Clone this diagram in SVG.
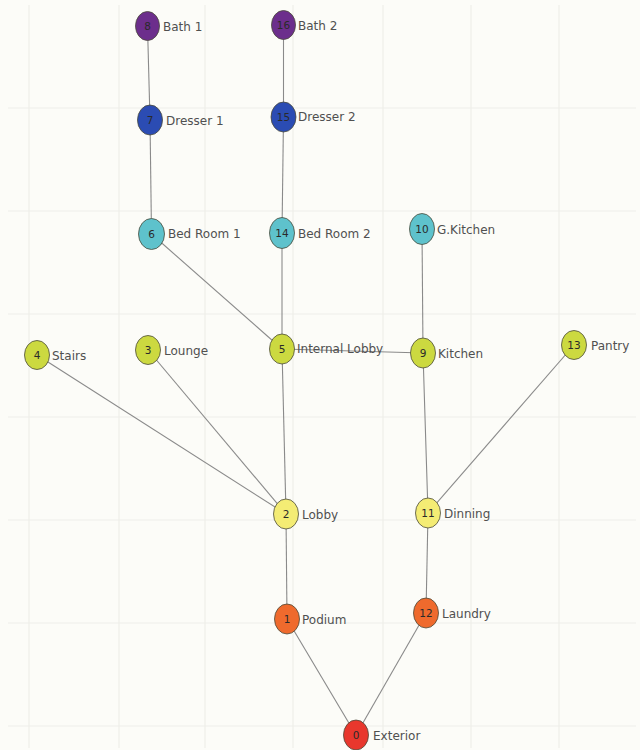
<svg xmlns="http://www.w3.org/2000/svg" width="640" height="750" viewBox="0 0 640 750">
<style>
.grid line{stroke:#eeeee9;stroke-width:1.2}
.edges line{stroke:#8a8a8a;stroke-width:1.1}
.n ellipse{stroke:#4a4a3a;stroke-width:0.8}
.num{font-family:"DejaVu Sans",Verdana,sans-serif;font-size:10.5px;fill:#2a2a2a;text-anchor:middle}
.lbl{font-family:"DejaVu Sans",Verdana,sans-serif;font-size:12px;fill:#505050}
.purple{fill:#6c2e8c}
.blue{fill:#2b4cb3}
.cyan{fill:#5ec2cc}
.lime{fill:#ccd940}
.yellow{fill:#f4ec74}
.orange{fill:#ef6a2d}
.red{fill:#e8372d}
</style>
<rect width="640" height="750" fill="#fcfcf8"/>
<g class="grid">
<line x1="29" y1="5" x2="29" y2="748"/>
<line x1="119" y1="5" x2="119" y2="748"/>
<line x1="205" y1="5" x2="205" y2="748"/>
<line x1="293" y1="5" x2="293" y2="748"/>
<line x1="383" y1="5" x2="383" y2="748"/>
<line x1="471" y1="5" x2="471" y2="748"/>
<line x1="559" y1="5" x2="559" y2="748"/>
<line x1="8" y1="108" x2="636" y2="108"/>
<line x1="8" y1="211" x2="636" y2="211"/>
<line x1="8" y1="314" x2="636" y2="314"/>
<line x1="8" y1="417" x2="636" y2="417"/>
<line x1="8" y1="520" x2="636" y2="520"/>
<line x1="8" y1="623" x2="636" y2="623"/>
<line x1="8" y1="726" x2="636" y2="726"/>
</g>
<g class="edges" id="connectors">
<line x1="147.5" y1="26" x2="150" y2="120"/>
<line x1="150" y1="120" x2="151.5" y2="234"/>
<line x1="283.5" y1="25" x2="283.5" y2="117"/>
<line x1="283.5" y1="117" x2="282" y2="233"/>
<line x1="282" y1="233" x2="282" y2="349"/>
<line x1="151.5" y1="234" x2="282" y2="349"/>
<line x1="282" y1="349" x2="423" y2="353"/>
<line x1="422" y1="229" x2="423" y2="353"/>
<line x1="423" y1="353" x2="428" y2="513"/>
<line x1="574" y1="345" x2="428" y2="513"/>
<line x1="282" y1="349" x2="286" y2="514"/>
<line x1="37" y1="355" x2="286" y2="514"/>
<line x1="148" y1="350" x2="286" y2="514"/>
<line x1="286" y1="514" x2="287" y2="619"/>
<line x1="428" y1="513" x2="426" y2="613"/>
<line x1="287" y1="619" x2="356" y2="735"/>
<line x1="426" y1="613" x2="356" y2="735"/>
</g>
<g class="n" id="node-8"><ellipse class="purple" cx="147.5" cy="26" rx="12" ry="14.5"/><text class="num" x="147.5" y="30">8</text><text class="lbl" x="163" y="31">Bath 1</text></g>
<g class="n" id="node-16"><ellipse class="purple" cx="283.5" cy="25" rx="12" ry="14.5"/><text class="num" x="283.5" y="29">16</text><text class="lbl" x="298" y="30">Bath 2</text></g>
<g class="n" id="node-7"><ellipse class="blue" cx="150" cy="120" rx="12.5" ry="15"/><text class="num" x="150" y="124">7</text><text class="lbl" x="166" y="125">Dresser 1</text></g>
<g class="n" id="node-15"><ellipse class="blue" cx="283.5" cy="117" rx="12.5" ry="15"/><text class="num" x="283.5" y="121">15</text><text class="lbl" x="298" y="121">Dresser 2</text></g>
<g class="n" id="node-6"><ellipse class="cyan" cx="151.5" cy="234" rx="13" ry="15.5"/><text class="num" x="151.5" y="238">6</text><text class="lbl" x="168" y="238">Bed Room 1</text></g>
<g class="n" id="node-14"><ellipse class="cyan" cx="282" cy="233" rx="12.5" ry="15.5"/><text class="num" x="282" y="237">14</text><text class="lbl" x="298" y="238">Bed Room 2</text></g>
<g class="n" id="node-10"><ellipse class="cyan" cx="422" cy="229" rx="12.5" ry="15.5"/><text class="num" x="422" y="233">10</text><text class="lbl" x="437" y="234">G.Kitchen</text></g>
<g class="n" id="node-4"><ellipse class="lime" cx="37" cy="355" rx="12.5" ry="14.5"/><text class="num" x="37" y="359">4</text><text class="lbl" x="52" y="360">Stairs</text></g>
<g class="n" id="node-3"><ellipse class="lime" cx="148" cy="350" rx="12.5" ry="14.5"/><text class="num" x="148" y="354">3</text><text class="lbl" x="164" y="355">Lounge</text></g>
<g class="n" id="node-5"><ellipse class="lime" cx="282" cy="349" rx="12.5" ry="15"/><text class="num" x="282" y="353">5</text><text class="lbl" x="297" y="353">Internal Lobby</text></g>
<g class="n" id="node-9"><ellipse class="lime" cx="423" cy="353" rx="12.5" ry="15"/><text class="num" x="423" y="357">9</text><text class="lbl" x="438" y="358">Kitchen</text></g>
<g class="n" id="node-13"><ellipse class="lime" cx="574" cy="345" rx="12.5" ry="14.5"/><text class="num" x="574" y="349">13</text><text class="lbl" x="591" y="350">Pantry</text></g>
<g class="n" id="node-2"><ellipse class="yellow" cx="286" cy="514" rx="12.5" ry="15"/><text class="num" x="286" y="518">2</text><text class="lbl" x="302" y="519">Lobby</text></g>
<g class="n" id="node-11"><ellipse class="yellow" cx="428" cy="513" rx="12.5" ry="15"/><text class="num" x="428" y="517">11</text><text class="lbl" x="444" y="518">Dinning</text></g>
<g class="n" id="node-1"><ellipse class="orange" cx="287" cy="619" rx="12.5" ry="15"/><text class="num" x="287" y="623">1</text><text class="lbl" x="302" y="624">Podium</text></g>
<g class="n" id="node-12"><ellipse class="orange" cx="426" cy="613" rx="12.5" ry="15"/><text class="num" x="426" y="617">12</text><text class="lbl" x="442" y="618">Laundry</text></g>
<g class="n" id="node-0"><ellipse class="red" cx="356" cy="735" rx="12.5" ry="15"/><text class="num" x="356" y="739">0</text><text class="lbl" x="373" y="740">Exterior</text></g>
</svg>
